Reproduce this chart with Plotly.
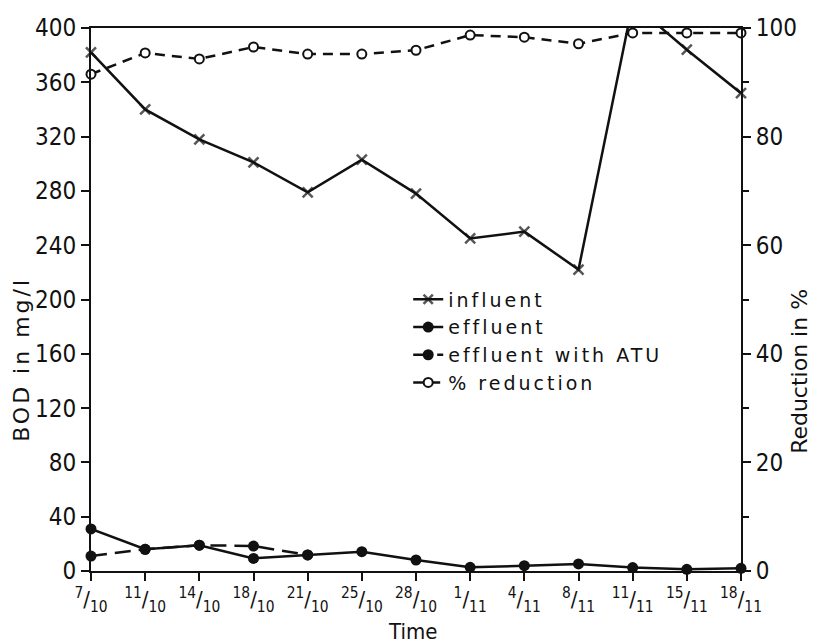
import plotly.graph_objects as go

# ---- data ----
dates = ["7/10", "11/10", "14/10", "18/10", "21/10", "25/10", "28/10",
         "1/11", "4/11", "8/11", "11/11", "15/11", "18/11"]
influent = [382, 340, 318, 301, 279, 303, 278, 245, 250, 222, 418, 384, 352]
effluent = [31, 16, 19, 9.3, 11.8, 14.2, 8.1, 2.7, 3.9, 5.2, 2.5, 1.2, 2.0]
effluent_atu = [11, 16, 19, 18.4, 11.8, None, None, None, None, None, None, None, None]
reduction = [91.5, 95.4, 94.3, 96.5, 95.2, 95.2, 95.9, 98.7, 98.3, 97.1, 99.1, 99.1, 99.1]

series_names = ["influent", "effluent", "effluent with ATU", "% reduction"]
left_ticks = [0, 40, 80, 120, 160, 200, 240, 280, 320, 360, 400]
right_ticks = [0, 20, 40, 60, 80, 100]

tick_text = []
for d in dates:
    day, month = d.split("/")
    tick_text.append(f"<sup>{day}</sup>/<sub>{month}</sub>")


def spaced(text, px):
    return f"<span style='letter-spacing:{px}px'>{text}</span>"


FONT = "DejaVu Sans, sans-serif"
COND = "DejaVu Sans Condensed, DejaVu Sans, sans-serif"
NUMFONT = "Liberation Sans Narrow, DejaVu Sans Condensed, sans-serif"
BLACK = "#111111"

fig = go.Figure()

fig.add_trace(go.Scatter(
    x=dates, y=influent, name=spaced(series_names[0], 3), mode="lines+markers",
    line=dict(color=BLACK, width=2.5),
    marker=dict(symbol="x-thin", size=[0 if v > 400 else 10 for v in influent],
                line=dict(color=BLACK, width=2.5), color=BLACK),
    cliponaxis=False,
))
fig.add_trace(go.Scatter(
    x=dates, y=effluent, name=spaced(series_names[1], 3), mode="lines+markers",
    line=dict(color=BLACK, width=2.5),
    marker=dict(symbol="circle", size=11, color=BLACK),
    cliponaxis=False,
))
fig.add_trace(go.Scatter(
    x=dates, y=effluent_atu, name=spaced(series_names[2], 3), mode="lines+markers",
    line=dict(color=BLACK, width=2.5, dash="16px,8px"),
    marker=dict(symbol="circle", size=11, color=BLACK),
    cliponaxis=False, connectgaps=False,
))
fig.add_trace(go.Scatter(
    x=dates, y=reduction, name=spaced(series_names[3], 3), mode="lines+markers",
    line=dict(color=BLACK, width=2.5, dash="10px,7px"),
    marker=dict(symbol="circle", size=9, color="white",
                line=dict(color=BLACK, width=2)),
    yaxis="y2", cliponaxis=False,
))

fig.update_layout(
    width=823, height=644,
    margin=dict(l=91, r=82, t=28, b=73),
    paper_bgcolor="white", plot_bgcolor="white",
    font=dict(family=FONT, color=BLACK, size=20),
    showlegend=True,
    legend=dict(x=0.488, y=0.535, xanchor="left", yanchor="top",
                bgcolor="rgba(0,0,0,0)", font=dict(size=19, family=FONT),
                tracegroupgap=0, itemwidth=30),
    xaxis=dict(
        type="category", categoryorder="array", categoryarray=dates,
        range=[0, len(dates) - 1],
        tickvals=dates, ticktext=tick_text,
        showline=True, linecolor=BLACK, linewidth=2, mirror=True,
        ticks="outside", ticklen=8, tickwidth=2, tickcolor=BLACK,
        showgrid=False, zeroline=False,
        tickfont=dict(family=COND, size=22),
    ),
    yaxis=dict(
        range=[0, 400], tickvals=left_ticks,
        showline=True, linecolor=BLACK, linewidth=2,
        ticks="outside", ticklen=8, tickwidth=2, tickcolor=BLACK,
        showgrid=False, zeroline=False,
        tickfont=dict(family=NUMFONT, size=24),
    ),
    yaxis2=dict(
        range=[0, 100], tickvals=right_ticks, overlaying="y", side="right",
        showline=True, linecolor=BLACK, linewidth=2,
        ticks="outside", ticklen=8, tickwidth=2, tickcolor=BLACK,
        minor=dict(dtick=10, ticks="outside", ticklen=6, tickwidth=2, tickcolor=BLACK),
        showgrid=False, zeroline=False,
        tickfont=dict(family=NUMFONT, size=24),
    ),
    annotations=[
        dict(text=spaced("BOD in mg/l", 3), xref="paper", yref="paper", x=-0.106, y=0.389,
             textangle=-90, showarrow=False, font=dict(size=22, family=FONT),
             xanchor="center", yanchor="middle"),
        dict(text="Reduction in %", xref="paper", yref="paper", x=1.091, y=0.367,
             textangle=-90, showarrow=False, font=dict(size=22, family=FONT),
             xanchor="center", yanchor="middle"),
        dict(text="Time", xref="paper", yref="paper", x=0.494, y=-0.112,
             showarrow=False, font=dict(size=22, family=COND),
             xanchor="center", yanchor="middle"),
    ],
)

fig.write_html("out.html")
